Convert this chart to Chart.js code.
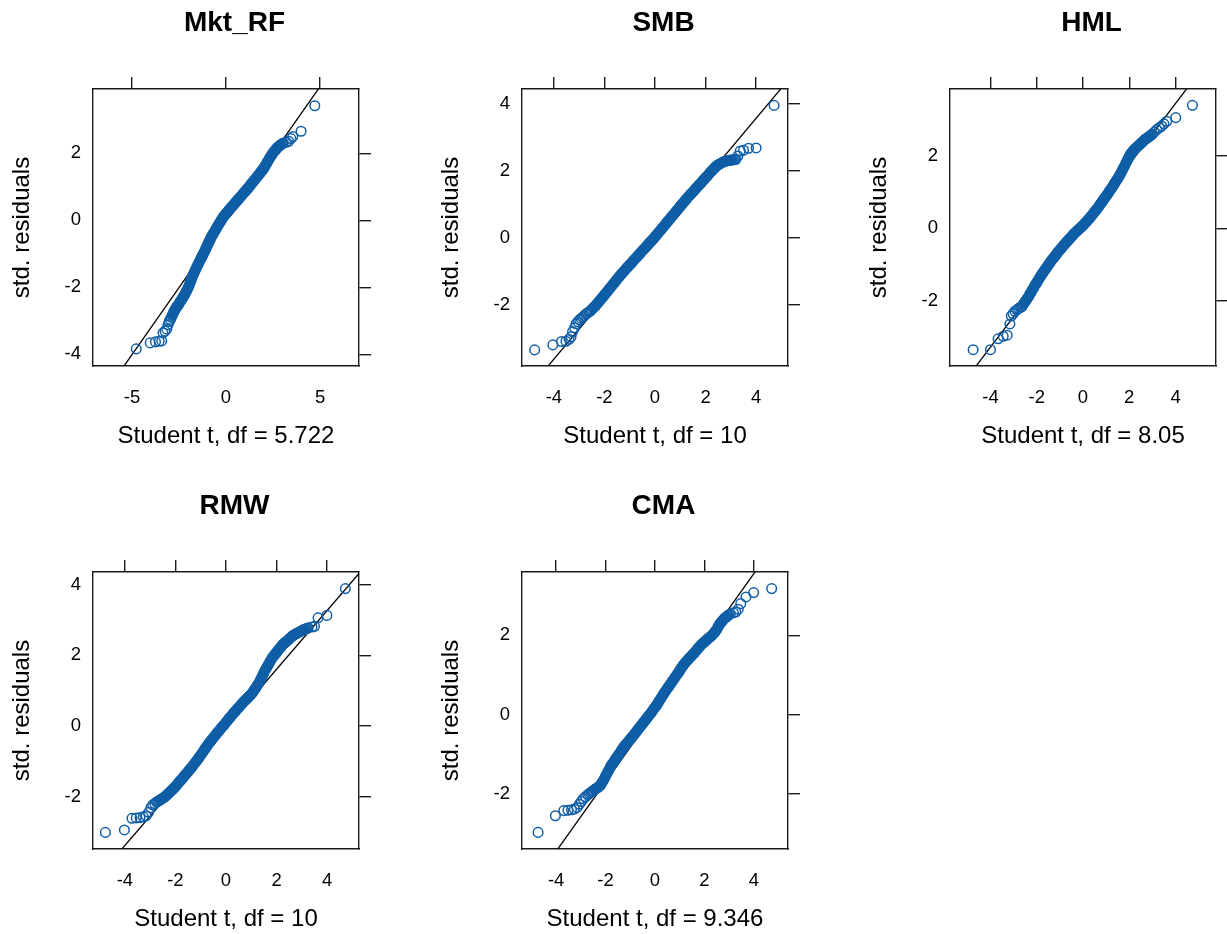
<!DOCTYPE html>
<html lang="en">
<head>
    <meta charset="UTF-8">
    <title>Student t QQ plots of standardized residuals</title>
    <style>
        body {
            margin: 0;
            padding: 0;
            background-color: #fff;
            width: 1227px;
            height: 934px;
            position: relative;
            overflow: hidden;
        }

        canvas {
            position: absolute;
        }
    </style>
</head>
<body>
    <canvas id="p1" width="469" height="456" style="left:0px;top:0px"></canvas>
    <canvas id="p2" width="469" height="456" style="left:429px;top:0px"></canvas>
    <canvas id="p3" width="469" height="456" style="left:857px;top:0px"></canvas>
    <canvas id="p4" width="469" height="456" style="left:0px;top:483px"></canvas>
    <canvas id="p5" width="469" height="456" style="left:429px;top:483px"></canvas>

    <script src="https://cdn.jsdelivr.net/npm/chart.js"></script>
    <script>
        const panelTitles = ['Mkt_RF', 'SMB', 'HML', 'RMW', 'CMA'];
        const xAxisLabels = ['Student t, df = 5.722', 'Student t, df = 10', 'Student t, df = 8.05', 'Student t, df = 10', 'Student t, df = 9.346'];
        const yAxisLabel = 'std. residuals';

        // axis limits and tick labels, per panel
        const mktXRange = [-7.07, 7.07], mktYRange = [-4.35, 3.92];
        const smbXRange = [-5.26, 5.26], smbYRange = [-3.82, 4.45];
        const hmlXRange = [-5.75, 5.75], hmlYRange = [-3.80, 3.84];
        const rmwXRange = [-5.26, 5.26], rmwYRange = [-3.49, 4.36];
        const cmaXRange = [-5.38, 5.38], cmaYRange = [-3.40, 3.60];

        const mktXTicks = [-5, 0, 5];
        const tXTicks = [-4, -2, 0, 2, 4];
        const mktYTicks = [-4, -2, 0, 2];
        const smbYTicks = [-2, 0, 2, 4];
        const hmlYTicks = [-2, 0, 2];
        const rmwYTicks = [-2, 0, 2, 4];
        const cmaYTicks = [-2, 0, 2];

        // reference lines (end points in data units, clipped by the plot box)
        const mktLineX = [-7.07, 7.07], mktLineY = [-5.67, 5.65];
        const smbLineX = [-5.26, 5.26], smbLineY = [-4.75, 4.71];
        const hmlLineX = [-5.75, 5.75], hmlLineY = [-4.75, 4.91];
        const rmwLineX = [-5.26, 5.26], rmwLineY = [-4.44, 4.32];
        const cmaLineX = [-5.38, 5.38], cmaLineY = [-4.67, 4.77];

        // theoretical quantiles (x) and sorted std. residuals (y)
        const mktX = [
            -4.77, -4.03, -3.75, -3.55, -3.42, -3.35, -3.24, -3.15, -3.08, -3.02,
            -2.96, -2.91, -2.86, -2.81, -2.77, -2.72, -2.68, -2.64, -2.60, -2.56,
            -2.50, -2.45, -2.40, -2.35, -2.30, -2.25, -2.20, -2.15, -2.10, -2.05,
            -2.00, -1.95, -1.90, -1.85, -1.80, -1.75, -1.70, -1.65, -1.60, -1.55,
            -1.50, -1.45, -1.40, -1.35, -1.30, -1.25, -1.20, -1.15, -1.10, -1.05,
            -1.00, -0.95, -0.90, -0.85, -0.80, -0.75, -0.70, -0.65, -0.60, -0.55,
            -0.50, -0.45, -0.40, -0.35, -0.30, -0.25, -0.20, -0.15, -0.10, -0.05,
            0.00, 0.05, 0.10, 0.15, 0.20, 0.25, 0.30, 0.35, 0.40, 0.45,
            0.50, 0.55, 0.60, 0.65, 0.70, 0.75, 0.80, 0.85, 0.90, 0.95,
            1.00, 1.05, 1.10, 1.15, 1.20, 1.25, 1.30, 1.35, 1.40, 1.45,
            1.50, 1.55, 1.60, 1.65, 1.70, 1.75, 1.80, 1.85, 1.90, 1.95,
            2.00, 2.05, 2.10, 2.15, 2.20, 2.25, 2.30, 2.35, 2.40, 2.45,
            2.50, 2.55, 2.60, 2.65, 2.70, 2.75, 2.80, 2.85, 2.90, 2.95,
            3.00, 3.05, 3.20, 3.33, 3.45, 3.55, 3.99, 4.72
        ];
        const mktY = [
            -3.84, -3.66, -3.63, -3.61, -3.60, -3.36, -3.31, -3.25, -3.12, -3.02,
            -2.96, -2.90, -2.84, -2.78, -2.73, -2.68, -2.64, -2.60, -2.57, -2.54,
            -2.50, -2.45, -2.40, -2.36, -2.31, -2.27, -2.22, -2.16, -2.11, -2.06,
            -2.00, -1.93, -1.85, -1.78, -1.70, -1.64, -1.57, -1.51, -1.45, -1.39,
            -1.33, -1.28, -1.22, -1.16, -1.11, -1.05, -1.00, -0.94, -0.88, -0.82,
            -0.76, -0.70, -0.64, -0.58, -0.52, -0.47, -0.42, -0.38, -0.33, -0.28,
            -0.23, -0.18, -0.13, -0.09, -0.04, 0.00, 0.05, 0.09, 0.13, 0.16,
            0.20, 0.23, 0.26, 0.30, 0.33, 0.36, 0.40, 0.43, 0.46, 0.49,
            0.53, 0.56, 0.59, 0.62, 0.66, 0.69, 0.72, 0.75, 0.79, 0.82,
            0.85, 0.88, 0.92, 0.95, 0.98, 1.02, 1.05, 1.09, 1.12, 1.16,
            1.19, 1.23, 1.26, 1.30, 1.33, 1.37, 1.40, 1.44, 1.48, 1.51,
            1.55, 1.60, 1.64, 1.69, 1.74, 1.79, 1.84, 1.88, 1.93, 1.97,
            2.01, 2.05, 2.08, 2.11, 2.15, 2.18, 2.20, 2.23, 2.25, 2.27,
            2.29, 2.31, 2.33, 2.36, 2.44, 2.50, 2.66, 3.42
        ];

        const smbX = [
            -4.76, -4.04, -3.70, -3.52, -3.40, -3.32, -3.26, -3.18, -3.12, -3.05,
            -2.98, -2.92, -2.86, -2.80, -2.74, -2.68,
            -2.60, -2.55, -2.50, -2.45, -2.40, -2.35, -2.30, -2.25, -2.20, -2.15,
            -2.10, -2.05, -2.00, -1.95, -1.90, -1.85, -1.80, -1.75, -1.70, -1.65,
            -1.60, -1.55, -1.50, -1.45, -1.40, -1.35, -1.30, -1.25, -1.20, -1.15,
            -1.10, -1.05, -1.00, -0.95, -0.90, -0.85, -0.80, -0.75, -0.70, -0.65,
            -0.60, -0.55, -0.50, -0.45, -0.40, -0.35, -0.30, -0.25, -0.20, -0.15,
            -0.10, -0.05, 0.00, 0.05, 0.10, 0.15, 0.20, 0.25, 0.30, 0.35,
            0.40, 0.45, 0.50, 0.55, 0.60, 0.65, 0.70, 0.75, 0.80, 0.85,
            0.90, 0.95, 1.00, 1.05, 1.10, 1.15, 1.20, 1.25, 1.30, 1.35,
            1.40, 1.45, 1.50, 1.55, 1.60, 1.65, 1.70, 1.75, 1.80, 1.85,
            1.90, 1.95, 2.00, 2.05, 2.10, 2.15, 2.20, 2.25, 2.30, 2.35,
            2.40, 2.45, 2.50, 2.55, 2.60, 2.65, 2.70, 2.75, 2.80, 2.85,
            2.90, 2.95, 3.00, 3.05, 3.10, 3.15, 3.20,
            3.28, 3.37, 3.50, 3.70, 4.00, 4.71
        ];
        const smbY = [
            -3.34, -3.19, -3.09, -3.08, -3.02, -2.95, -2.80, -2.68, -2.56, -2.50,
            -2.44, -2.40, -2.36, -2.32, -2.27, -2.24,
            -2.20, -2.17, -2.13, -2.09, -2.05, -2.02, -1.97, -1.93, -1.88, -1.84,
            -1.79, -1.75, -1.70, -1.65, -1.61, -1.56, -1.51, -1.47, -1.42, -1.37,
            -1.33, -1.28, -1.23, -1.18, -1.14, -1.09, -1.05, -1.01, -0.97, -0.92,
            -0.88, -0.84, -0.80, -0.76, -0.72, -0.67, -0.63, -0.59, -0.55, -0.51,
            -0.47, -0.42, -0.38, -0.34, -0.30, -0.26, -0.22, -0.17, -0.13, -0.09,
            -0.05, -0.01, 0.04, 0.08, 0.13, 0.17, 0.22, 0.26, 0.31, 0.35,
            0.40, 0.45, 0.49, 0.54, 0.58, 0.63, 0.67, 0.72, 0.76, 0.81,
            0.85, 0.90, 0.95, 0.99, 1.04, 1.08, 1.13, 1.17, 1.22, 1.26,
            1.30, 1.34, 1.38, 1.42, 1.47, 1.51, 1.55, 1.59, 1.63, 1.67,
            1.72, 1.76, 1.80, 1.84, 1.88, 1.93, 1.97, 2.01, 2.05, 2.09,
            2.13, 2.16, 2.19, 2.21, 2.23, 2.25, 2.27, 2.29, 2.30, 2.31,
            2.31, 2.32, 2.33, 2.33, 2.34, 2.34, 2.35,
            2.45, 2.60, 2.62, 2.68, 2.69, 3.96
        ];

        const hmlX = [
            -4.75, -4.00, -3.67, -3.45, -3.28, -3.16, -3.10, -3.02, -2.94, -2.86,
            -2.78, -2.70,
            -2.65, -2.60, -2.55, -2.50, -2.45, -2.40, -2.35, -2.30, -2.25, -2.20,
            -2.15, -2.10, -2.05, -2.00, -1.95, -1.90, -1.85, -1.80, -1.75, -1.70,
            -1.65, -1.60, -1.55, -1.50, -1.45, -1.40, -1.35, -1.30, -1.25, -1.20,
            -1.15, -1.10, -1.05, -1.00, -0.95, -0.90, -0.85, -0.80, -0.75, -0.70,
            -0.65, -0.60, -0.55, -0.50, -0.45, -0.40, -0.35, -0.30, -0.25, -0.20,
            -0.15, -0.10, -0.05, 0.00, 0.05, 0.10, 0.15, 0.20, 0.25, 0.30,
            0.35, 0.40, 0.45, 0.50, 0.55, 0.60, 0.65, 0.70, 0.75, 0.80,
            0.85, 0.90, 0.95, 1.00, 1.05, 1.10, 1.15, 1.20, 1.25, 1.30,
            1.35, 1.40, 1.45, 1.50, 1.55, 1.60, 1.65, 1.70, 1.75, 1.80,
            1.85, 1.90, 1.95, 2.00, 2.05, 2.10, 2.15, 2.20, 2.25, 2.30,
            2.35, 2.40, 2.45, 2.50, 2.55, 2.60, 2.65, 2.70, 2.75, 2.80,
            2.85, 2.90, 2.95, 3.00,
            3.08, 3.19, 3.30, 3.40, 3.50, 3.62, 4.01, 4.73
        ];
        const hmlY = [
            -3.35, -3.35, -3.05, -2.98, -2.95, -2.64, -2.42, -2.36, -2.29, -2.25,
            -2.21, -2.18,
            -2.17, -2.12, -2.07, -2.02, -1.98, -1.93, -1.88, -1.82, -1.77, -1.71,
            -1.66, -1.60, -1.55, -1.50, -1.45, -1.39, -1.34, -1.29, -1.24, -1.20,
            -1.15, -1.11, -1.06, -1.01, -0.97, -0.92, -0.88, -0.84, -0.80, -0.76,
            -0.72, -0.67, -0.63, -0.60, -0.56, -0.52, -0.48, -0.45, -0.41, -0.37,
            -0.34, -0.30, -0.27, -0.23, -0.20, -0.16, -0.13, -0.10, -0.07, -0.04,
            -0.01, 0.02, 0.05, 0.08, 0.11, 0.15, 0.18, 0.22, 0.25, 0.29,
            0.33, 0.37, 0.41, 0.45, 0.49, 0.53, 0.57, 0.62, 0.66, 0.71,
            0.75, 0.80, 0.84, 0.89, 0.93, 0.98, 1.03, 1.07, 1.12, 1.17,
            1.22, 1.27, 1.32, 1.37, 1.42, 1.48, 1.54, 1.60, 1.66, 1.72,
            1.79, 1.85, 1.92, 1.98, 2.04, 2.08, 2.12, 2.16, 2.19, 2.22,
            2.25, 2.28, 2.31, 2.34, 2.37, 2.40, 2.43, 2.46, 2.48, 2.50,
            2.52, 2.55, 2.57, 2.60,
            2.65, 2.72, 2.77, 2.82, 2.88, 2.95, 3.05, 3.39
        ];

        const rmwX = [
            -4.77, -4.02, -3.72, -3.55, -3.40, -3.27, -3.16, -3.06, -2.97, -2.90,
            -2.82, -2.75, -2.70,
            -2.65, -2.60, -2.55, -2.50, -2.45, -2.40, -2.35, -2.30, -2.25, -2.20,
            -2.15, -2.10, -2.05, -2.00, -1.95, -1.90, -1.85, -1.80, -1.75, -1.70,
            -1.65, -1.60, -1.55, -1.50, -1.45, -1.40, -1.35, -1.30, -1.25, -1.20,
            -1.15, -1.10, -1.05, -1.00, -0.95, -0.90, -0.85, -0.80, -0.75, -0.70,
            -0.65, -0.60, -0.55, -0.50, -0.45, -0.40, -0.35, -0.30, -0.25, -0.20,
            -0.15, -0.10, -0.05, 0.00, 0.05, 0.10, 0.15, 0.20, 0.25, 0.30,
            0.35, 0.40, 0.45, 0.50, 0.55, 0.60, 0.65, 0.70, 0.75, 0.80,
            0.85, 0.90, 0.95, 1.00, 1.05, 1.10, 1.15, 1.20, 1.25, 1.30,
            1.35, 1.40, 1.45, 1.50, 1.55, 1.60, 1.65, 1.70, 1.75, 1.80,
            1.85, 1.90, 1.95, 2.00, 2.05, 2.10, 2.15, 2.20, 2.25, 2.30,
            2.35, 2.40, 2.45, 2.50, 2.55, 2.60, 2.65, 2.70, 2.75, 2.80,
            2.85, 2.90, 2.95, 3.00, 3.05, 3.10, 3.15, 3.20, 3.25,
            3.40, 3.50, 3.64, 3.99, 4.72
        ];
        const rmwY = [
            -3.02, -2.95, -2.62, -2.61, -2.60, -2.58, -2.55, -2.45, -2.32, -2.24,
            -2.20, -2.16, -2.14,
            -2.12, -2.10, -2.07, -2.05, -2.03, -2.00, -1.97, -1.93, -1.90, -1.86,
            -1.83, -1.79, -1.76, -1.72, -1.68, -1.63, -1.59, -1.55, -1.51, -1.47,
            -1.42, -1.38, -1.34, -1.30, -1.25, -1.21, -1.17, -1.12, -1.07, -1.03,
            -0.98, -0.93, -0.88, -0.83, -0.78, -0.73, -0.67, -0.62, -0.57, -0.52,
            -0.47, -0.43, -0.38, -0.34, -0.29, -0.25, -0.20, -0.16, -0.12, -0.07,
            -0.03, 0.01, 0.05, 0.10, 0.14, 0.19, 0.23, 0.27, 0.32, 0.36,
            0.40, 0.44, 0.48, 0.52, 0.56, 0.61, 0.64, 0.68, 0.72, 0.75,
            0.79, 0.83, 0.86, 0.90, 0.94, 1.00, 1.05, 1.10, 1.16, 1.21,
            1.29, 1.36, 1.43, 1.51, 1.58, 1.64, 1.70, 1.77, 1.83, 1.89,
            1.95, 1.99, 2.04, 2.08, 2.13, 2.17, 2.22, 2.26, 2.31, 2.34,
            2.37, 2.40, 2.43, 2.46, 2.50, 2.53, 2.56, 2.58, 2.60, 2.62,
            2.64, 2.66, 2.68, 2.70, 2.72, 2.73, 2.75, 2.76, 2.78,
            2.80, 2.82, 3.06, 3.13, 3.89
        ];

        const cmaX = [
            -4.73, -4.03, -3.69, -3.52, -3.38, -3.26, -3.15, -3.06, -2.98, -2.90,
            -2.81, -2.72, -2.66,
            -2.60, -2.55, -2.50, -2.45, -2.40, -2.35, -2.30, -2.25, -2.20, -2.15,
            -2.10, -2.05, -2.00, -1.95, -1.90, -1.85, -1.80, -1.75, -1.70, -1.65,
            -1.60, -1.55, -1.50, -1.45, -1.40, -1.35, -1.30, -1.25, -1.20, -1.15,
            -1.10, -1.05, -1.00, -0.95, -0.90, -0.85, -0.80, -0.75, -0.70, -0.65,
            -0.60, -0.55, -0.50, -0.45, -0.40, -0.35, -0.30, -0.25, -0.20, -0.15,
            -0.10, -0.05, 0.00, 0.05, 0.10, 0.15, 0.20, 0.25, 0.30, 0.35,
            0.40, 0.45, 0.50, 0.55, 0.60, 0.65, 0.70, 0.75, 0.80, 0.85,
            0.90, 0.95, 1.00, 1.05, 1.10, 1.15, 1.20, 1.25, 1.30, 1.35,
            1.40, 1.45, 1.50, 1.55, 1.60, 1.65, 1.70, 1.75, 1.80, 1.85,
            1.90, 1.95, 2.00, 2.05, 2.10, 2.15, 2.20, 2.25, 2.30, 2.35,
            2.40, 2.45, 2.50, 2.55, 2.60, 2.65, 2.70, 2.75, 2.80, 2.85,
            2.90, 2.95, 3.00, 3.05,
            3.17, 3.27, 3.37, 3.47, 3.68, 3.99, 4.72
        ];
        const cmaY = [
            -2.98, -2.56, -2.43, -2.42, -2.41, -2.39, -2.35, -2.27, -2.20, -2.13,
            -2.08, -2.03, -2.00,
            -1.97, -1.95, -1.93, -1.90, -1.88, -1.86, -1.84, -1.81, -1.79, -1.73,
            -1.68, -1.62, -1.56, -1.50, -1.44, -1.38, -1.32, -1.27, -1.23, -1.18,
            -1.13, -1.09, -1.04, -1.00, -0.95, -0.90, -0.86, -0.81, -0.77, -0.74,
            -0.70, -0.66, -0.62, -0.59, -0.55, -0.51, -0.47, -0.43, -0.39, -0.35,
            -0.31, -0.27, -0.23, -0.19, -0.15, -0.11, -0.07, -0.03, 0.01, 0.05,
            0.09, 0.14, 0.18, 0.22, 0.27, 0.32, 0.37, 0.42, 0.47, 0.52,
            0.57, 0.61, 0.66, 0.70, 0.74, 0.79, 0.84, 0.88, 0.93, 0.97,
            1.02, 1.06, 1.11, 1.16, 1.21, 1.25, 1.29, 1.33, 1.36, 1.40,
            1.43, 1.46, 1.50, 1.53, 1.56, 1.60, 1.64, 1.68, 1.71, 1.75,
            1.78, 1.81, 1.83, 1.86, 1.89, 1.92, 1.94, 1.97, 2.00, 2.03,
            2.06, 2.11, 2.15, 2.21, 2.27, 2.31, 2.35, 2.38, 2.42, 2.45,
            2.47, 2.50, 2.52, 2.54,
            2.57, 2.59, 2.66, 2.80, 2.97, 3.08, 3.18
        ];

        const pointColor = '#0F5EA6';
        const frameColor = '#1a1a1a';
        const frameWidth = 1.4;

        Chart.defaults.font.family = '"Liberation Sans", Arial, Helvetica, sans-serif';
        Chart.defaults.color = '#000';

        const panels = [
            { id: 'p1', title: panelTitles[0], xLabel: xAxisLabels[0], xs: mktX, ys: mktY, xTicks: mktXTicks, yTicks: mktYTicks, xRange: mktXRange, yRange: mktYRange, lineX: mktLineX, lineY: mktLineY },
            { id: 'p2', title: panelTitles[1], xLabel: xAxisLabels[1], xs: smbX, ys: smbY, xTicks: tXTicks, yTicks: smbYTicks, xRange: smbXRange, yRange: smbYRange, lineX: smbLineX, lineY: smbLineY },
            { id: 'p3', title: panelTitles[2], xLabel: xAxisLabels[2], xs: hmlX, ys: hmlY, xTicks: tXTicks, yTicks: hmlYTicks, xRange: hmlXRange, yRange: hmlYRange, lineX: hmlLineX, lineY: hmlLineY },
            { id: 'p4', title: panelTitles[3], xLabel: xAxisLabels[3], xs: rmwX, ys: rmwY, xTicks: tXTicks, yTicks: rmwYTicks, xRange: rmwXRange, yRange: rmwYRange, lineX: rmwLineX, lineY: rmwLineY },
            { id: 'p5', title: panelTitles[4], xLabel: xAxisLabels[4], xs: cmaX, ys: cmaY, xTicks: tXTicks, yTicks: cmaYTicks, xRange: cmaXRange, yRange: cmaYRange, lineX: cmaLineX, lineY: cmaLineY },
        ];

        function fixedTicks(values) {
            return (scale) => {
                scale.ticks = values.map((v) => ({ value: v }));
            };
        }

        // where the circles pile up (middle of the band) they read as solid,
        // so fill the ones with close neighbours on both sides
        function crowdedFill(ctx) {
            const d = ctx.dataset.data;
            const i = ctx.dataIndex;
            if (i === undefined || i < 3 || i > d.length - 4) return 'rgba(0,0,0,0)';
            return d[i + 3].x - d[i - 3].x <= 0.305 ? pointColor : 'rgba(0,0,0,0)';
        }

        // labelled axis (bottom / left): no tick marks, just labels
        function labelAxis(position, range, tickValues, size, labelText) {
            const horizontal = position === 'bottom';
            return {
                type: 'linear',
                position: position,
                min: range[0],
                max: range[1],
                afterBuildTicks: fixedTicks(tickValues),
                afterFit: (scale) => {
                    if (horizontal) scale.height = size; else scale.width = size;
                },
                grid: { display: false, drawTicks: false },
                border: { display: true, color: frameColor, width: frameWidth },
                ticks: {
                    padding: horizontal ? 21 : 12,
                    font: { size: 18.5 },
                    color: '#000',
                    autoSkip: false,
                    maxRotation: 0,
                    callback: (v) => String(v),
                },
                title: {
                    display: true,
                    text: labelText,
                    font: { size: 24 },
                    color: '#000',
                    padding: horizontal ? { top: 0, bottom: 5 } : { top: 8, bottom: 0 },
                },
            };
        }

        // opposite axis (top / right): tick marks only
        function tickAxis(axis, position, range, tickValues, size) {
            const horizontal = position === 'top';
            return {
                type: 'linear',
                axis: axis,
                position: position,
                min: range[0],
                max: range[1],
                afterBuildTicks: fixedTicks(tickValues),
                afterFit: (scale) => {
                    if (horizontal) scale.height = size; else scale.width = size;
                },
                grid: {
                    display: true,
                    drawOnChartArea: false,
                    drawTicks: true,
                    tickLength: 12,
                    color: frameColor,
                    lineWidth: frameWidth,
                },
                border: { display: true, color: frameColor, width: frameWidth },
                ticks: { display: false },
            };
        }

        panels.forEach((p) => {
            const points = p.xs.map((x, i) => ({ x: x, y: p.ys[i] }));
            const line = p.lineX.map((x, i) => ({ x: x, y: p.lineY[i] }));

            new Chart(document.getElementById(p.id), {
                type: 'scatter',
                data: {
                    datasets: [
                        {
                            data: points,
                            showLine: false,
                            pointStyle: 'circle',
                            pointRadius: 4.8,
                            pointBorderWidth: 1.5,
                            pointBorderColor: pointColor,
                            pointBackgroundColor: crowdedFill,
                            order: 0,
                        },
                        {
                            data: line,
                            showLine: true,
                            borderColor: '#000',
                            borderWidth: 1.3,
                            pointRadius: 0,
                            order: 1,
                        },
                    ],
                },
                options: {
                    responsive: false,
                    animation: false,
                    events: [],
                    layout: { padding: 0, autoPadding: false },
                    plugins: {
                        legend: { display: false },
                        tooltip: { enabled: false },
                        title: {
                            display: true,
                            text: p.title,
                            font: { size: 28, weight: 'bold' },
                            color: '#000',
                            padding: { top: 6, bottom: 9.4 },
                        },
                    },
                    scales: {
                        x: labelAxis('bottom', p.xRange, p.xTicks, 90, p.xLabel),
                        x2: tickAxis('x', 'top', p.xRange, p.xTicks, 40),
                        y: labelAxis('left', p.yRange, p.yTicks, 93, yAxisLabel),
                        y2: tickAxis('y', 'right', p.yRange, p.yTicks, 110),
                    },
                },
            });
        });
    </script>
</body>
</html>
